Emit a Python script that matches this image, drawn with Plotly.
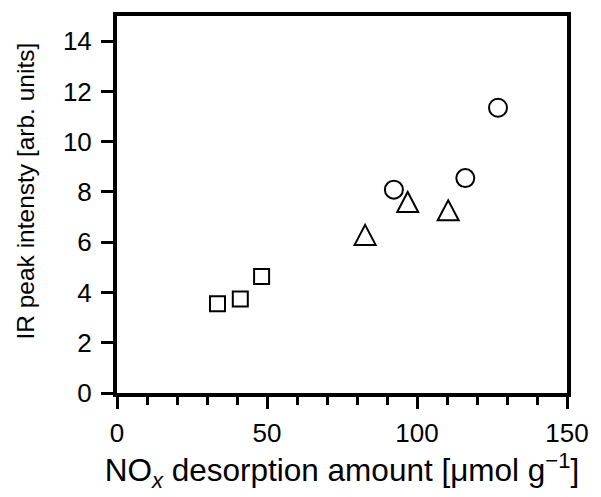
import plotly.graph_objects as go

# Data
sq_x = [33.5, 41.1, 48.2]
sq_y = [3.55, 3.74, 4.64]
tri_x = [82.7, 96.9, 110.4]
tri_y = [6.29, 7.60, 7.27]
ci_x = [92.3, 116.1, 127.0]
ci_y = [8.09, 8.55, 11.35]

x_ticks = [0, 50, 100, 150]
y_ticks = [0, 2, 4, 6, 8, 10, 12, 14]

FONT = "Liberation Sans, Arial, sans-serif"

fig = go.Figure()
fig.add_trace(go.Scatter(
    x=sq_x, y=sq_y, mode="markers",
    marker=dict(symbol="square-open", size=15, color="black", line=dict(width=2, color="black")),
    showlegend=False))
fig.add_trace(go.Scatter(
    x=ci_x, y=ci_y, mode="markers",
    marker=dict(symbol="circle-open", size=18, color="black", line=dict(width=2, color="black")),
    showlegend=False))

# open triangles drawn as pixel-sized paths anchored at the data points
for tx, ty in zip(tri_x, tri_y):
    fig.add_shape(type="path", xref="x", yref="y",
                  xsizemode="pixel", ysizemode="pixel",
                  xanchor=tx, yanchor=ty,
                  path="M-10.5,-10 L10.5,-10 L0,10 Z",
                  line=dict(color="black", width=2), fillcolor="rgba(0,0,0,0)")

fig.update_layout(
    width=601, height=497,
    margin=dict(l=117, r=31, t=14, b=104),
    plot_bgcolor="white", paper_bgcolor="white",
    font=dict(family=FONT, color="black"),
)
fig.update_xaxes(
    range=[0, 150], tickvals=x_ticks, ticktext=[str(v) for v in x_ticks],
    showgrid=False, zeroline=False,
    showline=True, linewidth=4, linecolor="black", mirror=True,
    ticks="outside", ticklen=12, tickwidth=3, tickcolor="black",
    minor=dict(dtick=10, ticks="outside", ticklen=8, tickwidth=3, tickcolor="black", showgrid=False),
    tickfont=dict(size=26, family=FONT, color="black"),
    ticklabelstandoff=2,
    title=dict(text="NO<sub><i>x</i></sub> desorption amount [μmol g<sup>−1</sup>]",
               font=dict(size=31.5, family=FONT, color="black"), standoff=2),
)
fig.update_yaxes(
    range=[0, 15], tickvals=y_ticks, ticktext=[str(v) for v in y_ticks],
    showgrid=False, zeroline=False,
    showline=True, linewidth=4, linecolor="black", mirror=True,
    ticks="outside", ticklen=12, tickwidth=3, tickcolor="black",
    tickfont=dict(size=26, family=FONT, color="black"),
    ticklabelstandoff=4,
)
# y-axis title as a rotated annotation (slightly above the plot centre, as in the reference)
fig.add_annotation(
    text="IR peak intensty [arb. units]", textangle=-90,
    xref="paper", yref="paper", x=-0.203, y=0.536,
    xanchor="center", yanchor="middle", showarrow=False,
    font=dict(size=24.5, family=FONT, color="black"),
)

fig.write_html("out.html")
